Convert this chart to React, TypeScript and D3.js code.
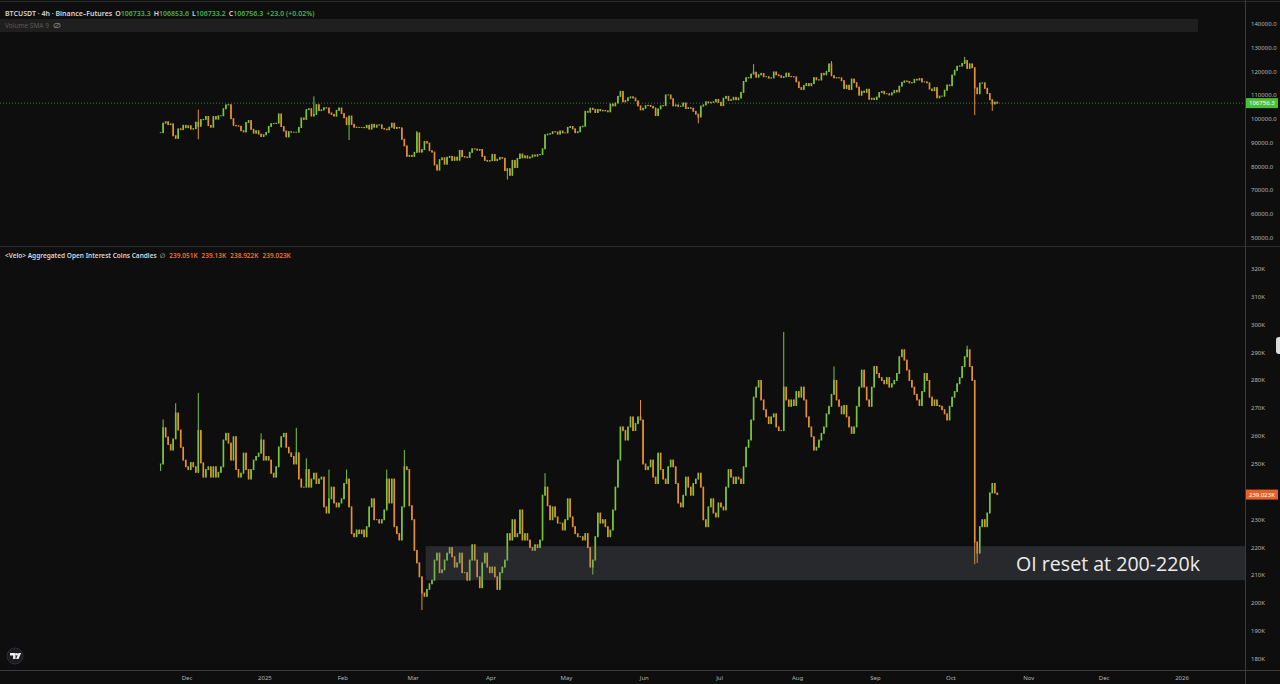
import React from 'react';
import * as d3 from 'd3';

// ---------- DATA (daily closes, from 2024-11-20) ----------
const seriesStart = '2024-11-20';

const btcNov = [94300, 98300, 98900, 97700, 98000, 93000, 91900, 95900, 95600, 97400, 96400];
const btcDec = [97200, 95800, 96000, 98700, 97000, 99800, 99900, 101100, 97300, 96600, 101100, 100000, 101400, 101400, 104400, 106000, 106100, 100200, 97400, 97200, 97000, 95100, 94600, 98600, 99400, 95700, 94100, 95100, 93700, 92700, 93400];
const btcJan = [94400, 96900, 98100, 98200, 98300, 102200, 96900, 95000, 92500, 94700, 94500, 94500, 94500, 96500, 100500, 99900, 104000, 104400, 101300, 102000, 106100, 103600, 103900, 104800, 104700, 102600, 102000, 101300, 103700, 104700, 102400];
const btcFeb = [100600, 97700, 101300, 97800, 96600, 96500, 96500, 96500, 96400, 97400, 95800, 97800, 96600, 97500, 97600, 96100, 95800, 95500, 96600, 98300, 96100, 96500, 96300, 91500, 88700, 84300, 84700, 84300];
const btcMar = [86000, 94200, 86100, 87200, 90600, 89900, 86700, 86100, 80700, 78500, 82900, 83700, 81000, 83900, 84300, 82600, 84000, 82700, 86800, 84200, 84000, 83800, 86000, 87500, 87400, 86900, 87200, 84300, 82600, 82300, 82500];
const btcApr = [85100, 82500, 83100, 83800, 83500, 78300, 79100, 76300, 82600, 79600, 83400, 85300, 83700, 84500, 83600, 84000, 84900, 84400, 85000, 85100, 87500, 93400, 93700, 93900, 94700, 94600, 93700, 95000, 94200, 94200];
const btcMay = [96500, 96900, 95900, 94300, 94700, 96800, 97000, 103300, 102900, 104600, 104100, 102800, 104100, 103500, 103700, 103500, 103100, 106400, 105600, 106800, 109600, 111700, 107300, 107800, 109000, 109400, 108900, 107700, 105600, 103900, 104600];
const btcJun = [105700, 105800, 105400, 104700, 101500, 104300, 105600, 105700, 110200, 110200, 108600, 105600, 106000, 105400, 105500, 106800, 104500, 104800, 104600, 103300, 102100, 100900, 105500, 106000, 107300, 106900, 107100, 107300, 108300, 107100];
const btcJul = [105700, 108800, 109600, 107900, 108200, 109200, 108200, 108900, 111300, 115900, 117500, 117400, 119000, 119800, 117700, 118700, 119300, 117900, 117900, 117300, 117400, 119900, 118700, 118300, 117600, 117900, 119400, 118000, 117900, 117800, 115700];
const btcAug = [113300, 112500, 114200, 115000, 114100, 115000, 117500, 116600, 116500, 119300, 118700, 120100, 123300, 118300, 117400, 117500, 117400, 116200, 112900, 114300, 112500, 116900, 115400, 113500, 110100, 111800, 111300, 112600, 108400, 108800, 108300];
const btcSep = [109300, 111200, 111700, 110700, 110700, 110200, 111100, 112100, 111500, 113900, 115500, 116100, 115900, 115300, 115400, 116800, 116500, 117100, 115700, 115700, 115300, 112700, 112000, 113300, 109000, 109700, 109700, 112200, 114400, 114100];
const btcOct = [118600, 120600, 122300, 122400, 123500, 124700, 121400, 123300, 121700, 113200, 110700, 115200, 115300, 113000, 110800, 108200, 106400, 107200, 106756.3];

const btcWickDates = ['2024-12-05', '2024-12-05', '2025-01-20', '2025-02-03', '2025-03-02', '2025-04-07', '2025-06-22', '2025-07-14', '2025-08-14', '2025-10-06', '2025-10-10', '2025-10-17'];
const btcWickValues = [104000, 91500, 109600, 91200, 95000, 74500, 98200, 123200, 124500, 126200, 101700, 103500];

const oiNov = [250, 263, 259.7, 257, 255, 259, 268.3, 262.2, 256, 251.4, 249];
const oiDec = [248, 250.5, 249, 247, 262, 250.4, 245.3, 248, 249, 245.3, 249, 245.3, 247, 249, 258.6, 261, 257.5, 251.4, 259.8, 248, 245.3, 246.7, 253.9, 248, 244.6, 248, 251.4, 252.7, 253.9, 258.6, 251.4];
const oiJan = [252.7, 251.4, 246.7, 245.3, 249, 256.1, 259.8, 261, 256, 254, 252.7, 250, 254, 244.6, 241.7, 241.7, 248, 241.7, 244.6, 246.7, 243, 244.6, 245.3, 234.6, 232.4, 237.5, 241.7, 236, 234.6, 236, 237.5];
const oiFeb = [243, 244.6, 234.6, 225, 223.9, 226.3, 225, 226.3, 223.9, 227.5, 234.6, 237.5, 230, 230, 228.8, 230, 233.5, 244.6, 236, 244.6, 227.5, 225, 222.7, 234.6, 249, 248, 235, 230];
const oiMar = [219, 214.5, 209.5, 203.7, 202.5, 205, 207, 208.3, 215.5, 218, 211, 212, 215.5, 218, 220, 216.7, 213, 214.5, 218, 211, 211, 208.3, 215.5, 221, 215.5, 209.5, 205.6, 214.5, 218, 213, 211];
const oiApr = [213, 209.5, 205, 211, 213, 215.5, 225, 222.7, 230, 223.9, 225, 233.5, 222.7, 225, 222.7, 220, 219, 221, 220, 222.7, 238.8, 241.7, 235, 230, 234.6, 231, 228.8, 228.8, 226.3, 230];
const oiMay = [237.5, 231, 227.5, 225, 223.9, 223.9, 222.7, 225, 220, 213, 215.5, 223.9, 232.4, 228.8, 230, 227.5, 223.9, 226.3, 233.5, 241.7, 251.4, 263.3, 262, 258.6, 263.3, 266.9, 262, 264.5, 266.9, 265.8, 250];
const oiJun = [248, 249, 251.4, 245.3, 243, 253.9, 248, 244.6, 243, 249, 251.4, 249, 243, 236, 234.6, 238.8, 245.3, 241.7, 238.8, 243, 244.6, 246.7, 241.7, 230, 227.5, 234.6, 237.5, 232.4, 231, 236];
const oiJul = [234.6, 233.5, 241.7, 248, 245.3, 243, 245.3, 244.6, 243, 249, 256, 258.6, 265.8, 274, 277.6, 280, 273, 269.5, 266.9, 264.5, 266.9, 268, 263.3, 262, 262, 277.6, 273, 270.7, 273, 271, 276];
const oiAug = [274, 277.6, 273, 266.9, 263.3, 259.8, 255, 256, 258.6, 261, 263.3, 268, 270.7, 275, 280, 273, 270.7, 268, 271, 266.9, 263.3, 261, 263.3, 270.7, 277.6, 283.7, 277.6, 273, 270.7, 277.6, 285];
const oiSep = [282.5, 281, 280, 278.8, 281, 277.6, 278.8, 280, 282.5, 288.5, 291, 287.3, 283.7, 280, 277.6, 275, 273, 271, 276, 282.5, 280, 274, 271, 273, 271, 270.7, 269.5, 268, 265.8, 270.7];
const oiOct = [274, 276, 278.8, 281, 285, 288.5, 291, 285, 280, 222, 218, 227.5, 230, 227.5, 232.4, 239.6, 243, 239.6, 239.023];

const oiWickDates = ['2024-11-20', '2024-11-21', '2024-11-26', '2024-12-05', '2024-12-30', '2025-01-13', '2025-01-17', '2025-01-26', '2025-02-02', '2025-02-18', '2025-02-25', '2025-03-04', '2025-04-22', '2025-05-11', '2025-05-30', '2025-07-26', '2025-08-15', '2025-10-07', '2025-10-10', '2025-10-11'];
const oiWickValues = [247.5, 266, 271.8, 275.5, 261, 263, 252, 248, 248, 248, 255, 197.6, 246.7, 210.3, 273, 297.4, 285, 292.5, 214, 214.5];

const btcTicks = [50000, 60000, 70000, 80000, 90000, 100000, 110000, 120000, 130000, 140000];
const oiTicks = [180, 190, 200, 210, 220, 230, 250, 260, 270, 280, 290, 300, 310, 320];
const monthTickDates = ['2024-12-01', '2025-01-01', '2025-02-01', '2025-03-01', '2025-04-01', '2025-05-01', '2025-06-01', '2025-07-01', '2025-08-01', '2025-09-01', '2025-10-01', '2025-11-01', '2025-12-01', '2026-01-01'];
const monthLabels = ['Dec', '2025', 'Feb', 'Mar', 'Apr', 'May', 'Jun', 'Jul', 'Aug', 'Sep', 'Oct', 'Nov', 'Dec', '2026'];

const zoneRange = [208.3, 220.5];
const zoneStart = '2025-03-06';
const lastPrice = 106756.3;
const lastOI = 239.023;

// ---------- helpers ----------
const DAY = 86400000;
const parseDay = (s: string) => Date.parse(s + 'T00:00:00Z');

type Candle = { t: number; o: number; h: number; l: number; c: number };

function buildCandles(closes: number[], wDates: string[], wVals: number[]): Candle[] {
  const wick = new Map<number, number[]>();
  wDates.forEach((d, i) => {
    const t = parseDay(d);
    const arr = wick.get(t) || [];
    arr.push(wVals[i]);
    wick.set(t, arr);
  });
  const t0 = parseDay(seriesStart);
  return closes.map((c, i) => {
    const t = t0 + i * DAY;
    const o = i === 0 ? c : closes[i - 1];
    const extra = wick.get(t) || [];
    return { t, o, c, h: Math.max(o, c, ...extra), l: Math.min(o, c, ...extra) };
  });
}

const btcCloses = [...btcNov, ...btcDec, ...btcJan, ...btcFeb, ...btcMar, ...btcApr, ...btcMay, ...btcJun, ...btcJul, ...btcAug, ...btcSep, ...btcOct];
const oiCloses = [...oiNov, ...oiDec, ...oiJan, ...oiFeb, ...oiMar, ...oiApr, ...oiMay, ...oiJun, ...oiJul, ...oiAug, ...oiSep, ...oiOct];
const btcCandles = buildCandles(btcCloses, btcWickDates, btcWickValues);
const oiCandles = buildCandles(oiCloses, oiWickDates, oiWickValues);

const W = 1280;
const H = 684;
const AXIS_X = 1245;
const UP = '#78c83a';
const DOWN = '#e8902e';
const FONT = "'Noto Sans', 'DejaVu Sans', sans-serif";

const x = d3.scaleUtc().domain([parseDay('2024-12-01'), parseDay('2026-01-01')]).range([187, 1182]);
const yBtc = d3.scaleLinear().domain([50000, 140000]).range([237.7, 24.3]);
const yOi = d3.scaleLinear().domain([180, 320]).range([659, 269]);

function Candles({ data, y }: { data: Candle[]; y: d3.ScaleLinear<number, number> }) {
  return (
    <g>
      {data.map((d, i) => {
        const cx = x(d.t + DAY / 2);
        const col = d.c >= d.o ? UP : DOWN;
        const y1 = y(Math.max(d.o, d.c));
        const y2 = y(Math.min(d.o, d.c));
        return (
          <g key={i}>
            <line x1={cx} x2={cx} y1={y(d.h)} y2={y(d.l)} stroke={col} strokeWidth={1} />
            <rect x={cx - 0.8} width={1.6} y={y1 - 0.5} height={Math.max(1, y2 - y1 + 1)} fill={col} />
          </g>
        );
      })}
    </g>
  );
}

export default function App() {
  const priceY = yBtc(lastPrice);
  const oiY = yOi(lastOI);
  const zx = x(parseDay(zoneStart));
  const zTop = yOi(zoneRange[1]);
  const zBot = yOi(zoneRange[0]);
  return (
    <svg width={W} height={H} style={{ position: 'fixed', left: 0, top: 0, background: '#0e0e0e' }} fontFamily={FONT}>
      <rect x={0} y={0} width={W} height={H} fill="#0e0e0e" />
      <line x1={0} x2={W} y1={1.5} y2={1.5} stroke="#2a2a2a" />
      {/* volume bar */}
      <rect x={0} y={19} width={1198} height={13} fill="#1f1f1f" />
      {/* pane separator */}
      <line x1={0} x2={W} y1={246.5} y2={246.5} stroke="#2b2b2b" />
      {/* time axis border */}
      <line x1={0} x2={W} y1={670.5} y2={670.5} stroke="#3c3c3c" />
      {/* price axis border */}
      <line x1={AXIS_X + 0.5} x2={AXIS_X + 0.5} y1={0} y2={H} stroke="#3c3c3c" />

      {/* last price dotted line */}
      <line x1={0} x2={AXIS_X} y1={priceY} y2={priceY} stroke="#4caf50" strokeOpacity={0.7} strokeDasharray="1 2" />

      <Candles data={btcCandles} y={yBtc} />
      <Candles data={oiCandles} y={yOi} />

      {/* OI reset zone */}
      <rect x={zx} y={zTop} width={AXIS_X - zx} height={zBot - zTop} fill="rgb(120,123,134)" fillOpacity={0.25} />
      <text x={1016} y={571} fontSize={19.6} fill="#ececec" fontFamily="'Open Sans', sans-serif">OI reset at 200-220k</text>

      {/* headers */}
      <text x={5} y={16} fontSize={7} fill="#d8d8d8" fontWeight={600}>
        BTCUSDT · 4h · Binance–Futures
        <tspan fill="#d8d8d8" dx={3}>O</tspan><tspan fill="#4caf50">106733.3</tspan>
        <tspan fill="#d8d8d8" dx={3}>H</tspan><tspan fill="#4caf50">106853.6</tspan>
        <tspan fill="#d8d8d8" dx={3}>L</tspan><tspan fill="#4caf50">106733.2</tspan>
        <tspan fill="#d8d8d8" dx={3}>C</tspan><tspan fill="#4caf50">106756.3</tspan>
        <tspan fill="#4caf50" dx={3}>+23.0 (+0.02%)</tspan>
      </text>
      <text x={5} y={28} fontSize={6.5} fill="#5a5a5a">Volume SMA 9</text>
      <g stroke="#8a8a8a" fill="none" strokeWidth={0.8}>
        <ellipse cx={57} cy={25.5} rx={3.2} ry={2.2} />
        <line x1={54.5} y1={28} x2={59.5} y2={23} />
      </g>
      <text x={5} y={258} fontSize={6.5} fill="#d8d8d8" fontWeight={600}>
        {'<Velo> Aggregated Open Interest Coins Candles'}
        <tspan fill="#8a8a8a" dx={3}>∅</tspan>
        <tspan fill="#e8742e" dx={4}>239.051K</tspan>
        <tspan fill="#e8742e" dx={4}>239.13K</tspan>
        <tspan fill="#e8742e" dx={4}>238.922K</tspan>
        <tspan fill="#e8742e" dx={4}>239.023K</tspan>
      </text>

      {/* price axis labels */}
      {btcTicks.map((v) => (
        <text key={v} x={1251} y={yBtc(v) + 2} fontSize={6} fill="#b4b4b4">{d3.format('.1f')(v)}</text>
      ))}
      {oiTicks.map((v) => (
        <text key={v} x={1251} y={yOi(v) + 2} fontSize={6} fill="#b4b4b4">{v + 'K'}</text>
      ))}
      <rect x={AXIS_X + 1} y={priceY - 5} width={32} height={10} fill="#4cbf3a" />
      <text x={1249} y={priceY + 2} fontSize={6} fill="#ffffff">{d3.format('.1f')(lastPrice)}</text>
      <rect x={AXIS_X + 1} y={oiY - 5} width={32} height={10} fill="#e2602a" />
      <text x={1249} y={oiY + 2} fontSize={6} fill="#ffffff">{lastOI.toFixed(3) + 'K'}</text>

      {/* right edge tab */}
      <rect x={1276} y={337} width={10} height={17} rx={3} fill="#dcdcdc" />

      {/* time axis */}
      {monthTickDates.map((d, i) => (
        <text key={d} x={x(parseDay(d))} y={680} fontSize={6} fill="#b4b4b4" textAnchor="middle">{monthLabels[i]}</text>
      ))}

      {/* logo */}
      <circle cx={15} cy={656} r={8} fill="#1c1c20" stroke="#2e2e33" />
      <path d="M10 653 h5.5 v6 h-2.4 v-3.6 h-3.1 z" fill="#f0f0f0" />
      <circle cx={16.6} cy={654.2} r={1.2} fill="#f0f0f0" />
      <path d="M18.5 653 h2.6 l-2.6 6 h-2.4 z" fill="#f0f0f0" />
    </svg>
  );
}
